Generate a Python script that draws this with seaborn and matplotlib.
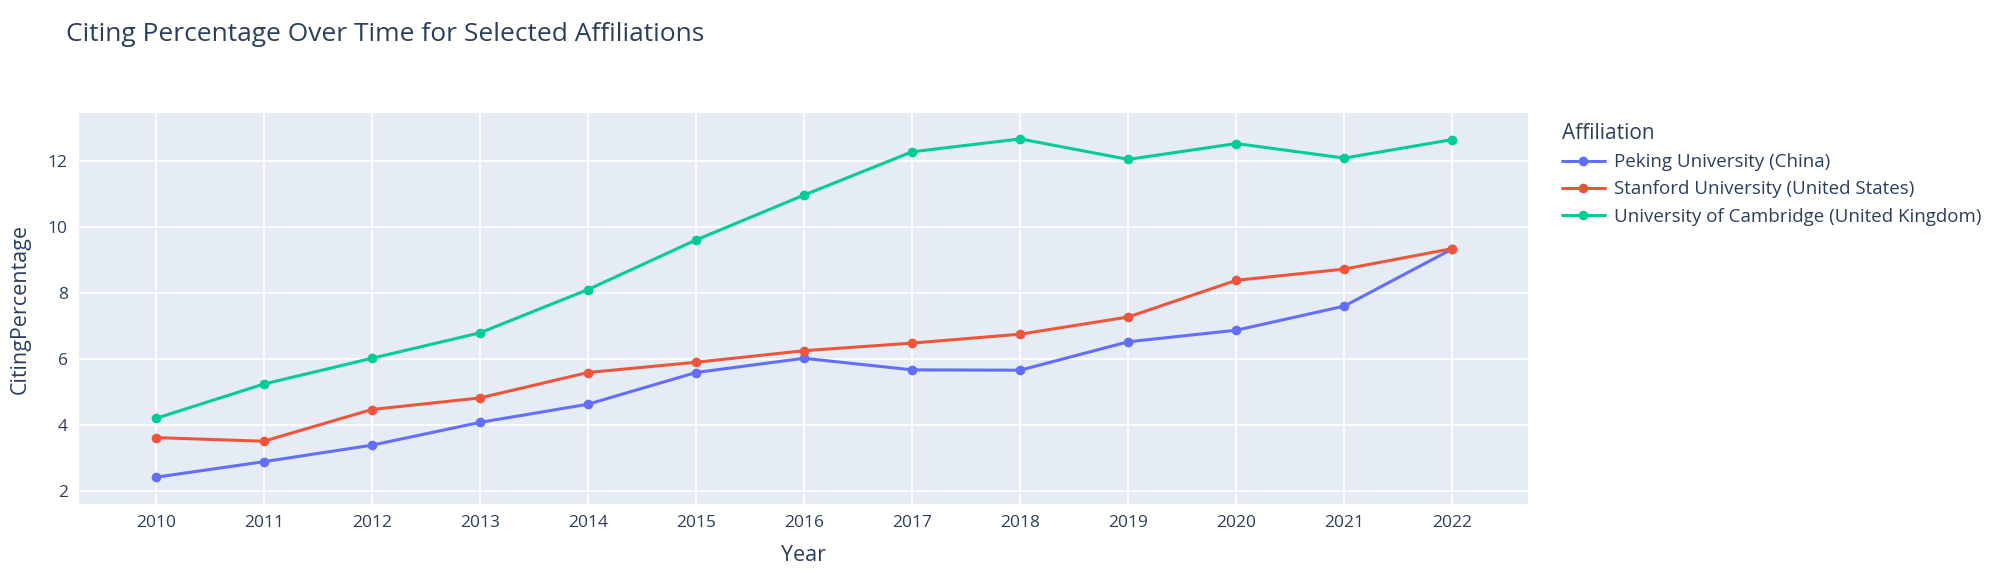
import pandas as pd
import matplotlib.pyplot as plt
import seaborn as sns

years = list(range(2010, 2023))
peking = [2.42, 2.89, 3.39, 4.08, 4.63, 5.59, 6.02, 5.67, 5.66, 6.52, 6.87, 7.60, 9.33]
stanford = [3.62, 3.51, 4.47, 4.82, 5.59, 5.90, 6.25, 6.48, 6.75, 7.27, 8.38, 8.72, 9.34]
cambridge = [4.20, 5.24, 6.02, 6.79, 8.10, 9.60, 10.96, 12.27, 12.66, 12.04, 12.52, 12.08, 12.64]
affiliations = ["Peking University (China)",
                "Stanford University (United States)",
                "University of Cambridge (United Kingdom)"]
colors = ["#636EFA", "#EF553B", "#00CC96"]

# long-form table for seaborn
rows = []
for name, vals in zip(affiliations, [peking, stanford, cambridge]):
    for y, v in zip(years, vals):
        rows.append({"Year": y, "CitingPercentage": v, "Affiliation": name})
df = pd.DataFrame(rows)

sns.set_style("darkgrid", {"axes.facecolor": "#E5ECF6", "grid.color": "white"})
plt.rcParams['font.family'] = ['Open Sans', 'DejaVu Sans']
text_color = "#2a3f5f"

fig = plt.figure(figsize=(20, 5.76), dpi=100)
ax = fig.add_axes([0.0395, 0.125, 0.7245, 0.678])

sns.lineplot(data=df, x="Year", y="CitingPercentage", hue="Affiliation",
             palette=colors, marker="o", markersize=7, markeredgewidth=0,
             linewidth=2.2, ax=ax)

ax.set_xlim(2009.29, 2022.7)
ax.set_ylim(1.61, 13.43)
ax.set_xticks(years)
ax.set_yticks([2, 4, 6, 8, 10, 12])
ax.grid(True, color="white", linewidth=1.3)
for s in ax.spines.values():
    s.set_visible(False)
ax.tick_params(length=0, labelsize=12.5, labelcolor=text_color, pad=8)
ax.set_xlabel("Year", fontsize=15.5, color=text_color, labelpad=10)
ax.set_ylabel("CitingPercentage", fontsize=15.5, color=text_color, labelpad=12)

fig.text(0.033, 0.94, "Citing Percentage Over Time for Selected Affiliations",
         fontsize=19, color=text_color, va="center", ha="left")

leg = ax.legend(title="Affiliation", loc="upper left",
                bbox_to_anchor=(0.777, 0.8), bbox_transform=fig.transFigure,
                frameon=False, fontsize=13.5, title_fontsize=15,
                handlelength=2.3, handletextpad=0.5, labelspacing=0.5,
                borderaxespad=0)
leg._legend_box.align = "left"
leg.get_title().set_color(text_color)
for t in leg.get_texts():
    t.set_color(text_color)

plt.savefig("out.png", dpi=100)
